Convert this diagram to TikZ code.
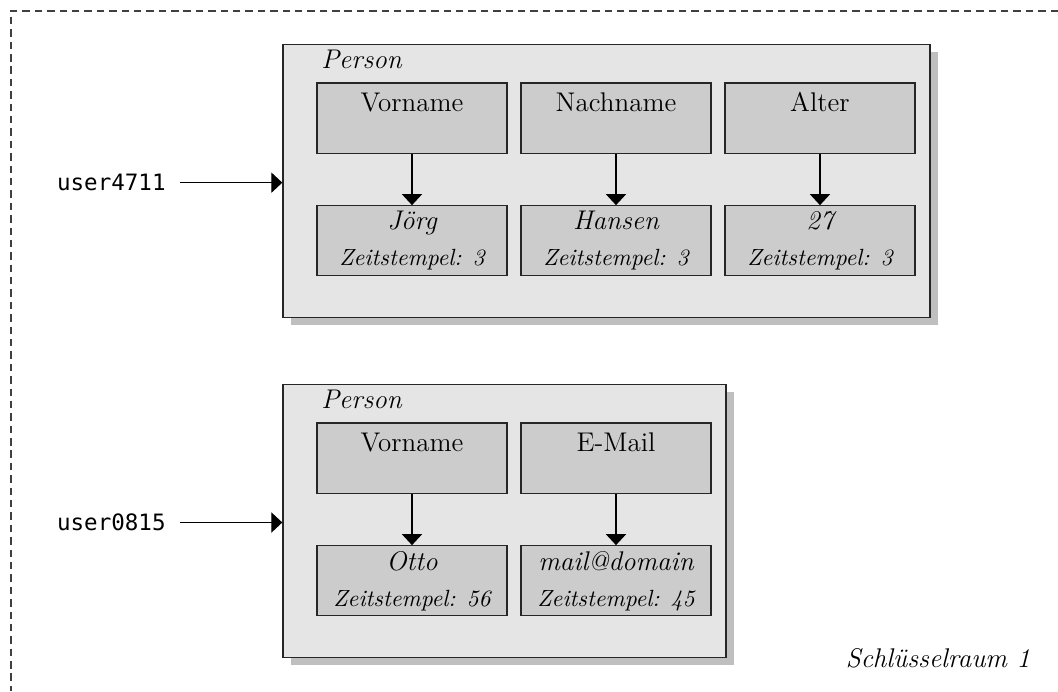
\documentclass[tikz,border=0pt]{standalone}
\usepackage{fontspec}
\newfontfamily\keyfont{DejaVu Sans Mono}
\newcommand\stampfont{\fontsize{10.4}{12.5}\selectfont}
\usetikzlibrary{arrows.meta,shadows}

\begin{document}
\begin{tikzpicture}[x=0.444pt,y=-0.444pt,
  every node/.style={font=\large},
  frame/.style={draw=black!75, line width=0.45pt, dash pattern=on 3.3pt off 2.2pt},
  record/.style={draw=black!85, line width=0.6pt, fill=black!10,
    minimum width=#1*0.444pt, minimum height=273*0.444pt, inner sep=0pt,
    drop shadow={shadow xshift=3.4pt, shadow yshift=-3.4pt, fill=black!25, opacity=1}},
  attrbox/.style={draw=black!85, line width=0.6pt, fill=black!20,
    minimum width=190*0.444pt, inner xsep=0pt, inner ysep=4.4pt,
    text height=8.2pt, text depth=14.3pt},
  valbox/.style={draw=black!85, line width=0.6pt, fill=black!20,
    minimum width=190*0.444pt, minimum height=70*0.444pt, inner sep=0pt,
    align=center, font=\large\itshape},
  link/.style={-{Triangle[length=4.9pt,width=9pt]}, line width=0.45pt},
  keylabel/.style={font=\keyfont\normalsize, anchor=base east, inner ysep=0pt, inner xsep=6.2pt},
  title/.style={font=\large\itshape, inner sep=0pt}
]
\useasboundingbox (0,0) rectangle (1058,691);

% key space border
\draw[frame] (1058,11) -- (11,11) -- (11,691);
\node[title, anchor=base east] (space) at (1030.5,667) {Schlüsselraum 1};

% first record
\node[record=647] (p1) at (606.5,180.8) {};
\node[title, anchor=base west] (p1t) at ([shift={(38.5,25)}]p1.north west) {Person};
\node[attrbox] (a11) at (412,118.3) {Vorname};
\node[attrbox] (a12) at (616,118.3) {Nachname};
\node[attrbox] (a13) at (820,118.3) {Alter};
\node[valbox] (v11) at (412,240.8) {Jörg\\[2pt]{\stampfont Zeitstempel: 3}};
\node[valbox] (v12) at (616,240.8) {Hansen\\[2pt]{\stampfont Zeitstempel: 3}};
\node[valbox] (v13) at (820,240.8) {27\\[2pt]{\stampfont Zeitstempel: 3}};
\draw[link] (a11) -- (v11);
\draw[link] (a12) -- (v12);
\draw[link] (a13) -- (v13);
\node[keylabel] (k1) at (180,190.7) {user4711};
\draw[link] (k1.east) -- (k1.east -| p1.west);

% second record
\node[record=443] (p2) at (504.5,520.8) {};
\node[title, anchor=base west] (p2t) at ([shift={(38.5,25)}]p2.north west) {Person};
\node[attrbox] (a21) at (412,458.3) {Vorname};
\node[attrbox] (a22) at (616,458.3) {E-Mail};
\node[valbox] (v21) at (412,580.8) {Otto\\[2pt]{\stampfont Zeitstempel: 56}};
\node[valbox] (v22) at (616,580.8) {mail@domain\\[2pt]{\stampfont Zeitstempel: 45}};
\draw[link] (a21) -- (v21);
\draw[link] (a22) -- (v22);
\node[keylabel] (k2) at (180,530.7) {user0815};
\draw[link] (k2.east) -- (k2.east -| p2.west);
\end{tikzpicture}
\end{document}
